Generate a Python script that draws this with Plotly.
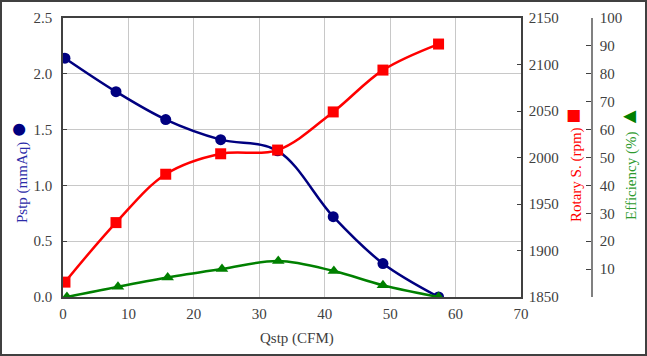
import plotly.graph_objects as go

qstp = [0.3, 8.1, 15.7, 24.1, 32.8, 41.3, 48.9, 57.4]
pstp = [2.14, 1.84, 1.59, 1.41, 1.31, 0.72, 0.30, 0.0]
rpm = [1866, 1930, 1982, 2004, 2008, 2049, 2094, 2122]
eff_q = [0.6, 8.4, 16.0, 24.3, 32.9, 41.4, 48.9, 57.4]
eff = [0.0, 3.7, 7.0, 10.0, 12.9, 9.3, 4.2, 0.0]

x_ticks = [0, 10, 20, 30, 40, 50, 60, 70]
p_ticks = [0.0, 0.5, 1.0, 1.5, 2.0, 2.5]
rpm_ticks = [1850, 1900, 1950, 2000, 2050, 2100, 2150]
eff_ticks = [10, 20, 30, 40, 50, 60, 70, 80, 90, 100]

FONT = "Liberation Serif"
W, H = 647, 356
L, R, T, B = 63, 55, 18, 59
pw = W - L - R
ph = H - T - B
dom = 458 / pw

def px(x):
    return (x - L) / pw

def py(y):
    return (H - B - y) / ph

fig = go.Figure()
fig.add_trace(go.Scatter(x=qstp, y=pstp, mode="lines+markers", line=dict(color="#000080", width=2.5, shape="spline", smoothing=1),
                         marker=dict(symbol="circle", size=11, color="#000080"), yaxis="y", showlegend=False))
fig.add_trace(go.Scatter(x=qstp, y=rpm, mode="lines+markers", line=dict(color="#FF0000", width=2.5, shape="spline", smoothing=1),
                         marker=dict(symbol="square", size=11, color="#FF0000"), yaxis="y2", showlegend=False))
fig.add_trace(go.Scatter(x=eff_q, y=eff, mode="lines+markers", line=dict(color="#008000", width=2.5, shape="spline", smoothing=1),
                         marker=dict(symbol="triangle-up", size=11, color="#008000"), yaxis="y3", showlegend=False))

tickfont = dict(family=FONT, size=15, color="#404040")
fig.update_layout(
    width=W, height=H, margin=dict(l=L, r=R, t=T, b=B, autoexpand=False),
    paper_bgcolor="white", plot_bgcolor="white",
    font=dict(family=FONT),
    xaxis=dict(domain=[0, dom], range=[0, 70], tickvals=x_ticks, showgrid=True, gridcolor="#C8C8C8", gridwidth=1,
               showline=True, linecolor="#404040", linewidth=1.5, mirror=True, ticks="", tickfont=tickfont,
               zeroline=False, automargin=False, ticklabelstandoff=2),
    yaxis=dict(range=[0, 2.5], tickvals=p_ticks, tickformat=".1f", showgrid=True, gridcolor="#C8C8C8", gridwidth=1,
               showline=True, linecolor="#404040", linewidth=1.5, ticks="inside", ticklen=4, tickcolor="#404040",
               tickfont=tickfont, zeroline=False, automargin=False, ticklabelstandoff=6),
    yaxis2=dict(range=[1850, 2150], tickvals=rpm_ticks, overlaying="y", side="right", anchor="x",
                showgrid=False, showline=True, linecolor="#404040", linewidth=1.5, ticks="inside", ticklen=4,
                tickcolor="#404040", tickfont=tickfont, zeroline=False, automargin=False, ticklabelstandoff=3),
    yaxis3=dict(range=[0, 100], tickvals=eff_ticks, overlaying="y", side="right", anchor="free", position=1.0,
                showgrid=False, showline=True, linecolor="#808080", linewidth=1.5, ticks="inside", ticklen=5,
                tickcolor="#404040", tickfont=tickfont, zeroline=False, automargin=False, ticklabelstandoff=4),
)

fig.add_annotation(x=px(17), y=py(172), xref="paper", yref="paper", textangle=-90, showarrow=False,
                   text="Pstp (mmAq) <span style='font-size:28px;color:#000080'>●</span>",
                   font=dict(family=FONT, size=15, color="#2B2BA8"), xanchor="center", yanchor="middle")
fig.add_annotation(x=px(572), y=py(166), xref="paper", yref="paper", textangle=-90, showarrow=False,
                   text="Rotary S. (rpm) <span style='font-size:25px'>■</span>",
                   font=dict(family=FONT, size=15, color="#FF0000"), xanchor="center", yanchor="middle")
fig.add_annotation(x=px(628), y=py(163), xref="paper", yref="paper", textangle=-90, showarrow=False,
                   text="Efficiency (%) <span style='font-size:22px;color:#008000'>▲</span>",
                   font=dict(family=FONT, size=15, color="#2E9A2E"), xanchor="center", yanchor="middle")
fig.add_annotation(x=px(297), y=py(338), xref="paper", yref="paper", showarrow=False,
                   text="Qstp (CFM)", font=dict(family=FONT, size=15, color="#404040"),
                   xanchor="center", yanchor="middle")

fig.add_shape(type="rect", xref="paper", yref="paper", x0=px(1), x1=px(646), y0=py(355), y1=py(1),
              line=dict(color="#404040", width=2), layer="above")

fig.write_html("out.html", config={"displayModeBar": False},
               post_script="document.body.style.margin='0px';")
